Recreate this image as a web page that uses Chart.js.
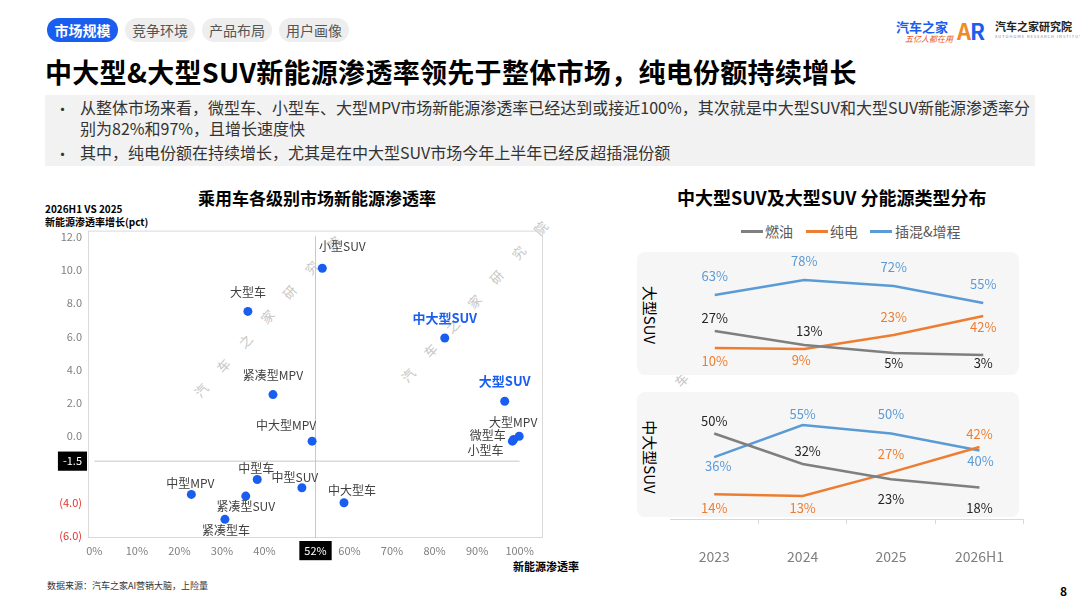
<!DOCTYPE html>
<html>
<head>
<meta charset="utf-8">
<script src="https://cdn.jsdelivr.net/npm/chart.js@4.4.1/dist/chart.umd.min.js"></script>
<style>
    body { margin: 0; background: #fff; font-family: 'Noto Sans CJK SC', 'Noto Sans', sans-serif; }
    #page { position: relative; width: 1080px; height: 608px; overflow: hidden; background: #fff; }
    .abs { position: absolute; white-space: nowrap; }
    .tab { position: absolute; top: 18px; height: 24px; line-height: 24px; border-radius: 12px; font-size: 14px; text-align: center; }
    .tab.off { background: #eeeeee; color: #555; }
    .tab.on { background: #1a5ef0; color: #fff; font-weight: bold; }
    .wm { position: absolute; color: #c6c6c6; font-size: 13px; letter-spacing: 20px; white-space: nowrap; transform: translate(-50%, -50%) rotate(-48deg); }
    .panel { position: absolute; background: #f6f6f6; border-radius: 8px; }
    .legend-line { position: absolute; height: 3px; width: 22px; top: 230px; }
    .legend-text { position: absolute; top: 221px; font-size: 14px; color: #595959; }
    .chart-box { position: absolute; }
</style>
</head>
<body>
<div id="page">
    <!-- header tabs -->
    <div class="tab on" style="left:47px;width:71px;">市场规模</div>
    <div class="tab off" style="left:125px;width:70px;">竞争环境</div>
    <div class="tab off" style="left:202px;width:70px;">产品布局</div>
    <div class="tab off" style="left:279px;width:70px;">用户画像</div>

    <!-- logos -->
    <div class="abs" style="left:896px;top:17px;font-size:13px;font-weight:bold;color:#1a5ef0;">汽车之家</div>
    <div class="abs" style="left:905px;top:33px;font-size:8px;color:#e8562a;font-style:italic;">五亿人都在用</div>
    <div class="abs" style="left:957px;top:14px;font-size:22px;font-weight:bold;color:#1a5ef0;letter-spacing:-1px;"><span style="color:#f08a24;">A</span>R</div>
    <div class="abs" style="left:995px;top:18px;font-size:11px;font-weight:bold;color:#222;">汽车之家研究院</div>
    <div class="abs" style="left:995px;top:33px;font-size:4px;color:#888;letter-spacing:1px;">AUTOHOME RESEARCH INSTITUTE</div>

    <!-- title -->
    <div class="abs" style="left:45px;top:52px;font-size:27px;font-weight:bold;color:#000;letter-spacing:0.3px;">中大型&amp;大型SUV新能源渗透率领先于整体市场，纯电份额持续增长</div>

    <!-- bullet box -->
    <div class="abs" style="left:45px;top:95px;width:990px;height:71px;background:#f2f2f2;"></div>
    <div class="abs" style="left:55px;top:98px;font-size:15px;color:#333;">•</div>
    <div class="abs" style="left:80px;top:97px;font-size:16px;line-height:21px;color:#333;">从整体市场来看，微型车、小型车、大型MPV市场新能源渗透率已经达到或接近100%，其次就是中大型SUV和大型SUV新能源渗透率分<br>别为82%和97%，且增长速度快</div>
    <div class="abs" style="left:55px;top:143px;font-size:15px;color:#333;">•</div>
    <div class="abs" style="left:80px;top:142px;font-size:16px;line-height:21px;color:#333;">其中，纯电份额在持续增长，尤其是在中大型SUV市场今年上半年已经反超插混份额</div>

    <!-- left chart texts -->
    <div class="abs" style="left:198px;top:185px;font-size:17px;font-weight:bold;color:#000;">乘用车各级别市场新能源渗透率</div>
    <div class="abs" style="left:45px;top:202px;font-size:10px;font-weight:bold;color:#000;line-height:13px;">2026H1 VS 2025<br>新能源渗透率增长(pct)</div>
    <div class="abs" style="left:513px;top:558px;font-size:11px;font-weight:bold;color:#000;">新能源渗透率</div>

    <!-- watermarks -->
    <div class="wm" style="left:274px;top:309px;">汽车之家研究院</div>
    <div class="wm" style="left:481px;top:294px;">汽车之家研究院</div>
    <div class="wm" style="left:734px;top:325px;transform:translate(-50%,-50%) rotate(-46deg);">汽车之家研究院</div>

    <!-- right chart texts -->
    <div class="abs" style="left:677px;top:184px;font-size:18px;font-weight:bold;color:#000;">中大型SUV及大型SUV 分能源类型分布</div>
    <div class="legend-line" style="left:741px;background:#7f7f7f;"></div>
    <div class="legend-text" style="left:765px;">燃油</div>
    <div class="legend-line" style="left:806px;background:#ed7d31;"></div>
    <div class="legend-text" style="left:830px;">纯电</div>
    <div class="legend-line" style="left:870px;background:#5b9bd5;"></div>
    <div class="legend-text" style="left:895px;">插混&amp;增程</div>

    <div class="panel" style="left:637px;top:252px;width:382px;height:123px;"></div>
    <div class="panel" style="left:637px;top:392px;width:382px;height:125px;"></div>
    <div class="abs" style="left:650px;top:315px;font-size:15px;color:#000;transform:translate(-50%,-50%) rotate(90deg);">大型SUV</div>
    <div class="abs" style="left:650px;top:457px;font-size:15px;color:#000;transform:translate(-50%,-50%) rotate(90deg);">中大型SUV</div>

    <!-- charts -->
    <div class="chart-box" style="left:40px;top:218px;width:530px;height:350px;"><canvas id="scatter-chart"></canvas></div>
    <div class="chart-box" style="left:670px;top:245px;width:358px;height:135px;"><canvas id="large-suv-chart"></canvas></div>
    <div class="chart-box" style="left:670px;top:385px;width:358px;height:204px;"><canvas id="midlarge-suv-chart"></canvas></div>

    <!-- footer -->
    <div class="abs" style="left:47px;top:579px;font-size:9px;color:#333;">数据来源：汽车之家AI营销大脑，上险量</div>
    <div class="abs" style="left:1060px;top:582px;font-size:12px;font-weight:bold;color:#000;">8</div>
</div>

<script>
// Scatter data: passenger car segments
const levelNames = ['小型SUV', '大型车', '中大型SUV', '紧凑型MPV', '大型SUV', '中大型MPV', '大型MPV', '微型车', '小型车', '中型车', '中型SUV', '中型MPV', '紧凑型SUV', '中大型车', '紧凑型车'];
const nevShare = [53.6, 36.1, 82.4, 42.0, 96.5, 51.2, 99.9, 98.6, 98.3, 38.3, 48.8, 22.8, 35.6, 58.7, 30.7];
const shareGrowth = [10.1, 7.5, 5.9, 2.5, 2.1, -0.3, 0.0, -0.2, -0.3, -2.6, -3.1, -3.5, -3.6, -4.0, -5.0];
const overallShare = 52;
const overallGrowth = -1.5;
const xTickValues = [0, 10, 20, 30, 40, 52, 60, 70, 80, 90, 100];
const yTickValues = [12, 10, 8, 6, 4, 2, 0, -1.5, -4, -6];
const highlightedLevels = ['中大型SUV', '大型SUV'];

// Line data: energy type share by year
const years = ['2023', '2024', '2025', '2026H1'];
const largeIce = [27, 13, 5, 3];
const largeBev = [10, 9, 23, 42];
const largePhev = [63, 78, 72, 55];
const midLargeIce = [50, 32, 23, 18];
const midLargeBev = [14, 13, 27, 42];
const midLargePhev = [36, 55, 50, 40];

// label offsets (pixels, relative to point)
const scatterLabelOffsets = [[20, -22], [0, -19], [0, -20], [0, -19], [0, -20], [-26, -16], [-6, -14], [-26, -4], [-27, 9], [-1, -11], [-7, -10], [-1, -11], [0, 10], [8, -12], [1, 11]];
const largeOffsets = { ice: [[0, -13], [5, -14], [0, 10], [0, 8]], bev: [[0, 13], [-3, 11], [0, -18], [0, 11]], phev: [[0, -19], [0, -19], [0, -19], [0, -19]] };
const midLargeOffsets = { ice: [[0, -12], [5, -13], [0, 20], [0, 20]], bev: [[0, 14], [0, 12], [0, -18], [0, -13]], phev: [[4, 9], [0, -11], [0, -19], [1, 11]] };

const FONT = "'Noto Sans CJK SC', 'Noto Sans', sans-serif";
const BLUE_DOT = '#1a5ef0';
const COLORS = { ice: '#7f7f7f', bev: '#ed7d31', phev: '#5b9bd5' };
const LABEL_COLORS = { ice: '#262626', bev: '#ed7d31', phev: '#5b9bd5' };

Chart.defaults.font.family = FONT;
Chart.defaults.animation = false;

// Draw text labels next to each point
const pointLabelPlugin = {
    id: 'pointLabels',
    afterDatasetsDraw(chart) {
        const ctx = chart.ctx;
        chart.data.datasets.forEach((dataset, i) => {
            if (!dataset.pointLabels) return;
            const meta = chart.getDatasetMeta(i);
            meta.data.forEach((el, j) => {
                const lab = dataset.pointLabels[j];
                ctx.save();
                ctx.font = lab.font;
                ctx.fillStyle = lab.color;
                ctx.textAlign = 'center';
                ctx.textBaseline = 'middle';
                ctx.fillText(lab.text, el.x + lab.dx, el.y + lab.dy);
                ctx.restore();
            });
        });
    }
};

// Light frame around the plot area
const framePlugin = {
    id: 'frame',
    beforeDatasetsDraw(chart) {
        const { ctx, chartArea: a } = chart;
        ctx.save();
        ctx.strokeStyle = '#d9d9d9';
        ctx.lineWidth = 1;
        ctx.strokeRect(a.left + 0.5, a.top + 0.5, a.width - 1, a.height - 1);
        ctx.restore();
    }
};

function format_growth(v) {
    if (v === overallGrowth) return v.toFixed(1);
    if (v < 0) return '(' + (-v).toFixed(1) + ')';
    return v.toFixed(1);
}

function create_scatter_chart() {
    const yMin = -6.12, yMax = 12.36;
    const labels = levelNames.map((name, i) => {
        const hi = highlightedLevels.includes(name);
        return {
            text: name,
            dx: scatterLabelOffsets[i][0],
            dy: scatterLabelOffsets[i][1],
            font: hi ? `bold 13px ${FONT}` : `12px ${FONT}`,
            color: hi ? BLUE_DOT : '#404040'
        };
    });

    return new Chart(document.getElementById('scatter-chart'), {
        type: 'scatter',
        data: {
            datasets: [
                {
                    data: nevShare.map((x, i) => ({ x: x, y: shareGrowth[i] })),
                    backgroundColor: BLUE_DOT,
                    borderWidth: 0,
                    pointRadius: 4.5,
                    order: 1,
                    pointLabels: labels
                },
                {
                    type: 'line',
                    data: [{ x: overallShare, y: yTickValues[0] }, { x: overallShare, y: yMin }],
                    borderColor: '#c8c8c8',
                    borderWidth: 1,
                    pointRadius: 0,
                    order: 2
                },
                {
                    type: 'line',
                    data: [{ x: xTickValues[0], y: overallGrowth }, { x: xTickValues[xTickValues.length - 1], y: overallGrowth }],
                    borderColor: '#c8c8c8',
                    borderWidth: 1,
                    pointRadius: 0,
                    order: 2
                }
            ]
        },
        options: {
            responsive: true,
            maintainAspectRatio: false,
            layout: { padding: { top: 6, right: 27, left: 0, bottom: 0 } },
            plugins: { legend: { display: false }, tooltip: { enabled: false } },
            scales: {
                x: {
                    type: 'linear',
                    min: -1.5,
                    max: 105.5,
                    grid: { display: false, drawTicks: false },
                    border: { display: false },
                    afterBuildTicks: s => { s.ticks = xTickValues.map(v => ({ value: v })); },
                    afterFit: s => { s.height = 30; },
                    ticks: {
                        padding: 6,
                        font: { size: 11 },
                        callback: v => v + '%',
                        color: c => c.tick.value === overallShare ? '#ffffff' : '#808080',
                        showLabelBackdrop: c => c.tick.value === overallShare,
                        backdropColor: '#000000',
                        backdropPadding: { x: 5, y: 3 }
                    }
                },
                y: {
                    type: 'linear',
                    min: yMin,
                    max: yMax,
                    grid: { display: false, drawTicks: false },
                    border: { display: false },
                    afterBuildTicks: s => { s.ticks = yTickValues.map(v => ({ value: v })); },
                    afterFit: s => { s.width = 48; },
                    ticks: {
                        padding: 6,
                        font: { size: 11 },
                        callback: v => format_growth(v),
                        color: c => c.tick.value === overallGrowth ? '#ffffff' : (c.tick.value < 0 ? '#e0312b' : '#808080'),
                        showLabelBackdrop: c => c.tick.value === overallGrowth,
                        backdropColor: '#000000',
                        backdropPadding: { x: 5, y: 3 }
                    }
                }
            }
        },
        plugins: [framePlugin, pointLabelPlugin]
    });
}

function make_line_dataset(values, key, offsets) {
    return {
        data: values,
        borderColor: COLORS[key],
        borderWidth: 2.5,
        pointRadius: 0,
        tension: 0,
        pointLabels: values.map((v, i) => ({
            text: v + '%',
            dx: offsets[key][i][0],
            dy: offsets[key][i][1],
            font: `13px ${FONT}`,
            color: LABEL_COLORS[key]
        }))
    };
}

function create_share_chart(elementId, ice, bev, phev, offsets, yMin, yMax, showAxis) {
    return new Chart(document.getElementById(elementId), {
        type: 'line',
        data: {
            labels: years,
            datasets: [
                make_line_dataset(ice, 'ice', offsets),
                make_line_dataset(bev, 'bev', offsets),
                make_line_dataset(phev, 'phev', offsets)
            ]
        },
        options: {
            responsive: true,
            maintainAspectRatio: false,
            layout: { padding: 0 },
            plugins: { legend: { display: false }, tooltip: { enabled: false } },
            scales: {
                x: {
                    display: showAxis,
                    offset: true,
                    grid: { display: true, drawOnChartArea: false, drawTicks: true, tickLength: 5, offset: true, color: '#d9d9d9' },
                    border: { display: true, color: '#d9d9d9' },
                    ticks: { padding: 24, font: { size: 14 }, color: '#7f7f7f' }
                },
                y: { display: false, min: yMin, max: yMax }
            }
        },
        plugins: [pointLabelPlugin]
    });
}

create_scatter_chart();
create_share_chart('large-suv-chart', largeIce, largeBev, largePhev, largeOffsets, -22, 113, false);
create_share_chart('midlarge-suv-chart', midLargeIce, midLargeBev, midLargePhev, midLargeOffsets, -0.7, 78.7, true);
</script>
</body>
</html>
